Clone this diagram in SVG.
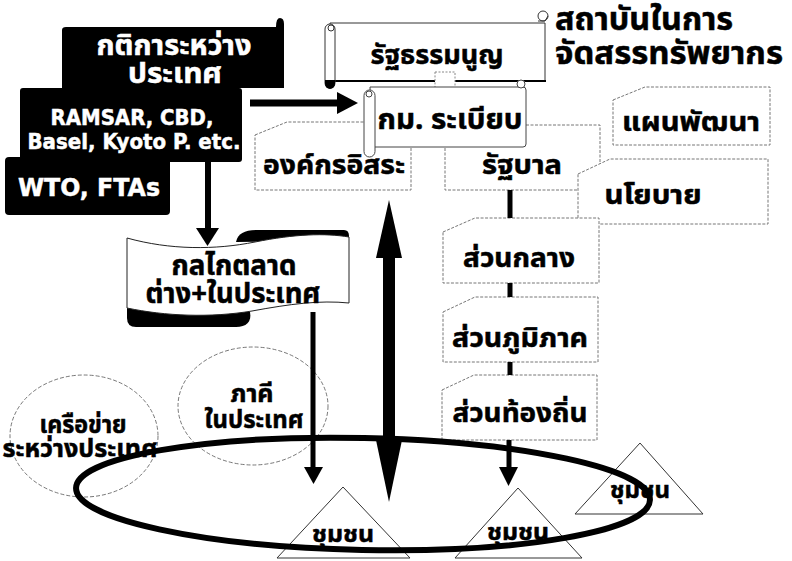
<svg xmlns="http://www.w3.org/2000/svg" width="792" height="561" viewBox="0 0 792 561">
<style>
text{font-family:"Noto Sans Thai","Tahoma","DejaVu Sans",sans-serif;font-weight:bold;text-anchor:middle;fill:#000;stroke:#000;stroke-width:0.5}
.w{fill:#fff;stroke:#fff}
.lat{font-family:"DejaVu Sans","Liberation Sans",sans-serif}
.dbox{fill:#fff;stroke:#777;stroke-width:1;stroke-dasharray:3 1.5}
.blk{fill:#000}
.thin{fill:none;stroke:#555;stroke-width:0.8;stroke-dasharray:4 2}
</style>
<rect width="792" height="561" fill="#fff"/>

<!-- background dashed boxes -->
<g id="ongkon"><path class="dbox" d="M255,135 L287,122 L411,122 L411,190 L255,190 Z"/><text x="334" y="174" font-size="27" textLength="142" lengthAdjust="spacingAndGlyphs">องค์กรอิสระ</text></g>
<g id="ratthaban"><path class="dbox" d="M445,125 L600,125 L600,190 L445,190 Z"/><text x="522" y="174" font-size="27" textLength="80" lengthAdjust="spacingAndGlyphs">รัฐบาล</text></g>
<g id="phaen"><path class="dbox" d="M613,100 L645,87 L770,87 L770,145 L613,145 Z"/><text x="691" y="131" font-size="27" textLength="138" lengthAdjust="spacingAndGlyphs">แผนพัฒนา</text></g>
<g id="nayobai"><path class="dbox" d="M578,174 L610,159 L768,159 L768,224 L578,224 Z"/><text x="653" y="204" font-size="27" textLength="97" lengthAdjust="spacingAndGlyphs">นโยบาย</text></g>

<!-- black boxes -->
<g id="kotika"><path class="blk" d="M62,30 Q62,27 66,27 L276,27 Q276,18 280,18 Q284,18 284,24 L284,88 L62,88 Z"/><text class="w" x="174" y="55" font-size="28" textLength="155" lengthAdjust="spacingAndGlyphs">กติการะหว่าง</text><text class="w" x="175" y="83" font-size="28" textLength="94" lengthAdjust="spacingAndGlyphs">ประเทศ</text></g>
<g id="ramsar"><rect class="blk" x="20" y="88" width="222" height="74" rx="3"/><text class="w lat" x="132" y="125" font-size="21" textLength="163" lengthAdjust="spacingAndGlyphs">RAMSAR, CBD,</text><text class="w lat" x="134" y="149" font-size="21" textLength="213" lengthAdjust="spacingAndGlyphs">Basel, Kyoto P. etc.</text></g>
<g id="wto"><rect class="blk" x="5" y="157" width="165" height="58" rx="4"/><text class="w lat" x="89" y="196" font-size="25" textLength="142" lengthAdjust="spacingAndGlyphs">WTO, FTAs</text></g>

<!-- scroll constitution -->
<g id="rattathammanun">
<path d="M330,23 L545,23 L545,81 L330,81 Z" fill="#fff" stroke="#333" stroke-width="1"/>
<line x1="333" y1="81" x2="546" y2="81" stroke="#000" stroke-width="2.2"/>
<circle cx="543" cy="16" r="5" fill="#fff" stroke="#333"/>
<path d="M538,21 L545,21 L548,16" fill="none" stroke="#333"/>
<rect x="325" y="24" width="10" height="64" rx="5" fill="#fff" stroke="#333"/>
<path d="M325,80 L335,80 L335,84 A5,5 0 0 1 325,84 Z" fill="#000"/>
<circle cx="331" cy="28" r="3" fill="#fff" stroke="#333"/>
<text x="437" y="64" font-size="27" textLength="133" lengthAdjust="spacingAndGlyphs">รัฐธรรมนูญ</text>
</g>

<!-- hollow dashed down arrow -->
<path d="M435,72 L455,72 L455,93 L467,93 L446,104 L425,93 L435,93 Z" fill="#fff" stroke="#888" stroke-width="1" stroke-dasharray="2 1.5"/>

<!-- scroll kom rabiap -->
<g id="kom">
<path d="M370,87 L523,87 Q526,87 526,90 L526,144 Q526,147 523,147 L372,147 Z" fill="#fff" stroke="#444" stroke-width="1"/>
<circle cx="521" cy="84" r="4" fill="#fff" stroke="#444"/>
<rect x="364" y="90" width="11" height="67" rx="5.5" fill="#fff" stroke="#444"/>
<circle cx="369" cy="94" r="3" fill="#fff" stroke="#444"/>
<text x="450" y="129" font-size="29" textLength="145" lengthAdjust="spacingAndGlyphs">กม. ระเบียบ</text>
</g>

<!-- hierarchy boxes -->
<g id="suanklang"><path class="dbox" d="M443,232 L475,218 L599,218 L599,283 L443,283 Z"/><text x="519" y="267" font-size="27" textLength="112" lengthAdjust="spacingAndGlyphs">ส่วนกลาง</text></g>
<g id="suanphumiphak"><path class="dbox" d="M443,312 L475,297 L598,297 L598,362 L443,362 Z"/><text x="520" y="347" font-size="27" textLength="136" lengthAdjust="spacingAndGlyphs">ส่วนภูมิภาค</text></g>
<g id="suantongthin"><path class="dbox" d="M442,390 L474,375 L597,375 L597,440 L442,440 Z"/><text x="520" y="422" font-size="27" textLength="135" lengthAdjust="spacingAndGlyphs">ส่วนท้องถิ่น</text></g>

<!-- banner -->
<g id="konlai">
<path class="blk" d="M236,242 C238,233 245,230 258,230 L344,230 Q349,230 349,236 L349,240 Z"/>
<path class="blk" d="M127,306 L250,312 C252,322 246,327 236,327 L136,327 Q127,327 127,318 Z"/>
<path d="M127,238 C170,250 215,250 255,242 C295,234 325,233 349,237 L349,303 C320,300 290,304 252,311 C210,318 165,316 127,308 Z" fill="#fff" stroke="#222" stroke-width="1"/>
<text x="234" y="275" font-size="28" textLength="125" lengthAdjust="spacingAndGlyphs">กลไกตลาด</text>
<text x="233" y="303" font-size="28" textLength="175" lengthAdjust="spacingAndGlyphs">ต่าง+ในประเทศ</text>
</g>

<!-- ellipses -->
<g id="phaki"><ellipse cx="253" cy="406" rx="75" ry="59" class="thin"/><text x="252" y="402" font-size="24" textLength="43" lengthAdjust="spacingAndGlyphs">ภาคี</text><text x="254" y="428" font-size="24" textLength="99" lengthAdjust="spacingAndGlyphs">ในประเทศ</text></g>
<g id="khruekhai"><ellipse cx="84" cy="436" rx="74" ry="61" class="thin"/><text x="83" y="433" font-size="24" textLength="87" lengthAdjust="spacingAndGlyphs">เครือข่าย</text><text x="80" y="457" font-size="24" textLength="155" lengthAdjust="spacingAndGlyphs">ระหว่างประเทศ</text></g>

<!-- community triangles -->
<g id="chumchon1"><path d="M343,487 L410,558 L277,558 Z" fill="#fff" stroke="#333" stroke-width="1"/><text x="343" y="542" font-size="23" textLength="62" lengthAdjust="spacingAndGlyphs">ชุมชน</text></g>
<g id="chumchon2"><path d="M518,488 L582,558 L455,558 Z" fill="#fff" stroke="#333" stroke-width="1"/><text x="518" y="540" font-size="23" textLength="62" lengthAdjust="spacingAndGlyphs">ชุมชน</text></g>
<g id="chumchon3"><path d="M640,443 L703,514 L575,514 Z" fill="#fff" stroke="#333" stroke-width="1"/><text x="640" y="498" font-size="23" textLength="60" lengthAdjust="spacingAndGlyphs">ชุมชน</text></g>

<!-- title -->
<g id="sathaban"><text x="555" y="30" font-size="32" style="text-anchor:start" textLength="178" lengthAdjust="spacingAndGlyphs">สถาบันในการ</text><text x="555" y="64" font-size="32" style="text-anchor:start" textLength="228" lengthAdjust="spacingAndGlyphs">จัดสรรทรัพยากร</text></g>

<!-- connectors -->
<g id="connectors">
<line x1="510" y1="190" x2="510" y2="218" stroke="#000" stroke-width="5"/>
<line x1="510" y1="283" x2="510" y2="297" stroke="#000" stroke-width="5"/>
<line x1="510" y1="362" x2="510" y2="375" stroke="#000" stroke-width="5"/>
<line x1="509" y1="440" x2="509" y2="470" stroke="#000" stroke-width="5"/>
<path d="M499,467 L518,467 L508.5,486 Z" fill="#000"/>
<line x1="208" y1="162" x2="208" y2="230" stroke="#000" stroke-width="6"/>
<path d="M196,228 L219,228 L207.5,246 Z" fill="#000"/>
<line x1="250" y1="103" x2="340" y2="103" stroke="#000" stroke-width="7"/>
<path d="M337,92 L358,103 L337,114 Z" fill="#000"/>
<line x1="313" y1="312" x2="313" y2="470" stroke="#000" stroke-width="5"/>
<path d="M304,467 L323,467 L313.5,484 Z" fill="#000"/>
<rect x="383" y="255" width="12" height="190" fill="#000"/>
<path d="M389,200 L402,258 L376,258 Z" fill="#000"/>
<path d="M376,440 L402,440 L389,502 Z" fill="#000"/>
<ellipse cx="363" cy="494" rx="287" ry="56" fill="none" stroke="#000" stroke-width="6" transform="rotate(1.2 363 494)"/>
</g>
</svg>
